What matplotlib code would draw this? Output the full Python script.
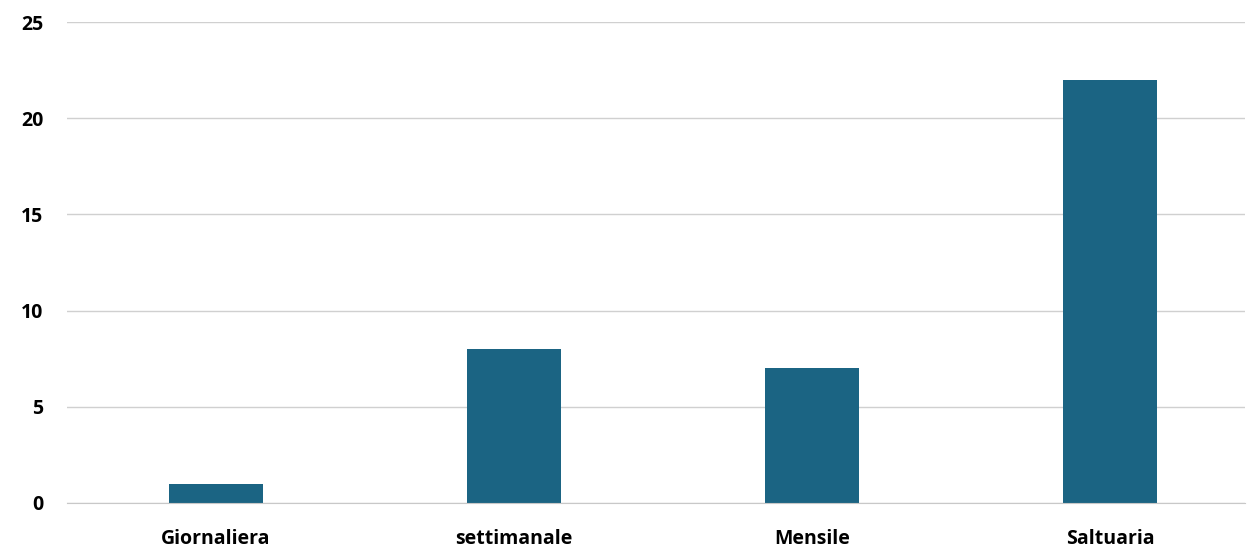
import matplotlib.pyplot as plt
import numpy as np

categories = ['Giornaliera', 'settimanale', 'Mensile', 'Saltuaria']
counts = [1, 8, 7, 22]
y_ticks = [0, 5, 10, 15, 20, 25]

plt.rcParams['font.family'] = ['Open Sans', 'DejaVu Sans']

fig = plt.figure(figsize=(12.49, 5.5), dpi=100)
ax = fig.add_axes([0.0536, 0.0855, 0.9432, 0.8745])

x = np.arange(len(categories))
ax.bar(x, counts, width=0.315, color='#1b6483', zorder=3)

ax.set_xlim(-0.5, 3.453)
ax.set_ylim(0, 25)
ax.set_yticks(y_ticks)
ax.set_xticks(x)
ax.set_xticklabels(categories, fontsize=14, fontweight='bold')
ax.set_yticklabels([str(t) for t in y_ticks], fontsize=14, fontweight='bold')
ax.tick_params(axis='both', length=0)
ax.tick_params(axis='y', pad=17)
ax.tick_params(axis='x', pad=19)

ax.yaxis.grid(True, color='#d0d0d0', linewidth=1, zorder=0)
for side in ['top', 'right', 'left']:
    ax.spines[side].set_visible(False)
ax.spines['bottom'].set_color('#c8c8c8')
ax.spines['bottom'].set_zorder(4)

fig.savefig('out.png', dpi=100)
